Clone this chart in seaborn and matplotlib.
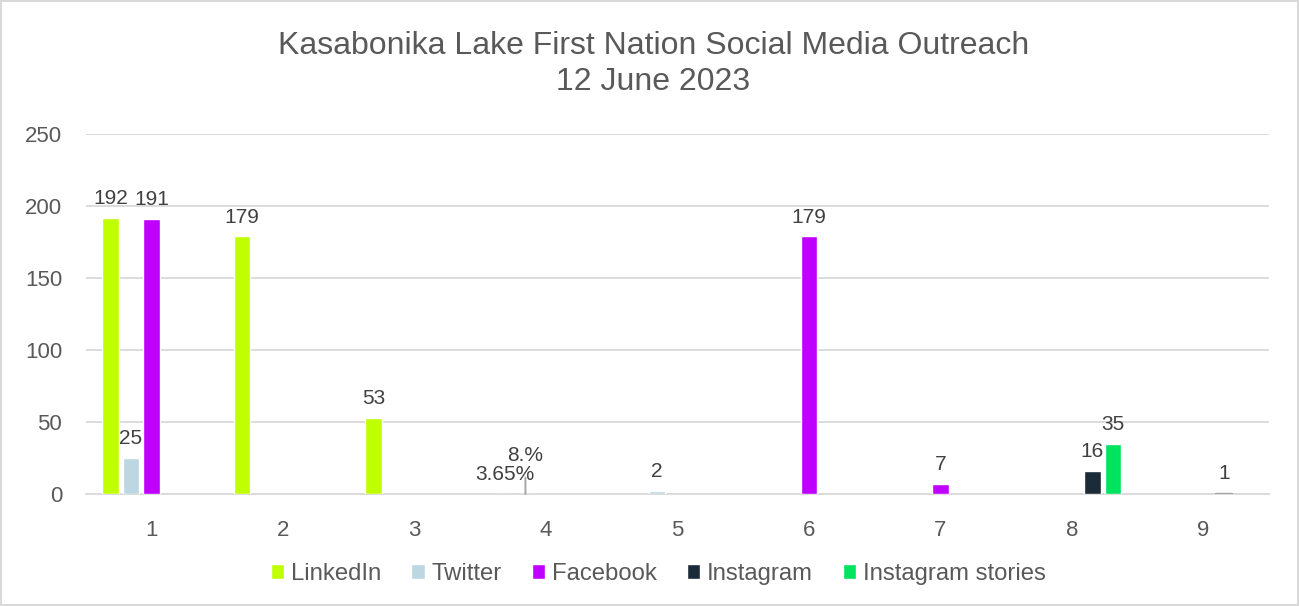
import matplotlib
matplotlib.use('Agg')
import matplotlib.pyplot as plt
import numpy as np
import pandas as pd
import seaborn as sns

# data
categories = ['1', '2', '3', '4', '5', '6', '7', '8', '9']
series = ['LinkedIn', 'Twitter', 'Facebook', 'Instagram', 'Instagram stories']
linkedin = [192, 179, 53, 0.0365, 0, 0, 0, 0, 0]
twitter = [25, 0, 0, 0.08, 2, 0, 0, 0, 0]
facebook = [191, 0, 0, 0, 0, 179, 7, 0, 0]
instagram = [0, 0, 0, 0, 0, 0, 0, 16, 1]
instagram_stories = [0, 0, 0, 0, 0, 0, 0, 35, 0]
# labels on category 4 are percentages in the original
pct_labels = {('LinkedIn', '4'): '3.65%', ('Twitter', '4'): '8.%'}

colors = ['#bfff00', '#bdd7e2', '#c000ff', '#1b2b38', '#00e35f']
grey_point = '#a6a6a6'   # the single value on category 9 is drawn grey
text_col = '#595959'

df = pd.DataFrame({
    'cat': categories * 5,
    'series': np.repeat(series, len(categories)),
    'value': linkedin + twitter + facebook + instagram + instagram_stories,
})

sns.set_style('white')
plt.rcParams['font.family'] = ['Liberation Sans', 'DejaVu Sans']

fig = plt.figure(figsize=(12.99, 6.06), dpi=100)
ax = fig.add_axes([0.066, 0.1848, 0.911, 0.594])

sns.barplot(data=df, x='cat', y='value', hue='series', hue_order=series,
            order=categories, palette=colors, width=0.78, gap=0.18,
            saturation=1, ax=ax, legend=True, zorder=3)

ax.set_ylim(0, 250)
ax.set_xlim(-0.5, 8.5)
ax.set_yticks(range(0, 251, 50))
ax.yaxis.grid(True, color='#d9d9d9', lw=1.3, zorder=0)
ax.set_axisbelow(True)
for s in ['top', 'right', 'left']:
    ax.spines[s].set_visible(False)
ax.spines['bottom'].set_color('#d9d9d9')
ax.spines['bottom'].set_linewidth(1.3)
ax.spines['bottom'].set_zorder(1)
ax.tick_params(axis='both', length=0, labelsize=16, labelcolor=text_col)
ax.tick_params(axis='y', pad=17)
ax.tick_params(axis='x', pad=19)
ax.set_xlabel('')
ax.set_ylabel('')

# value labels
for name, cont in zip(series, ax.containers):
    labs = []
    for cat, p in zip(categories, cont.patches):
        h = p.get_height()
        key = (name, cat)
        if h == 0:
            p.set_visible(False)
        if key == ('Twitter', '4'):
            labs.append('')
            xc = p.get_x() + p.get_width() / 2
            ax.annotate(pct_labels[key], xy=(xc, h), xytext=(0, 28),
                        textcoords='offset points', ha='center', va='center',
                        fontsize=15, color='#404040', zorder=5,
                        arrowprops=dict(arrowstyle='-', color=grey_point,
                                        lw=1.4, shrinkA=7, shrinkB=0))
        elif key in pct_labels:
            labs.append(pct_labels[key])
        elif h >= 1:
            labs.append(str(int(h)))
        else:
            labs.append('')
    ax.bar_label(cont, labels=labs, padding=7, fontsize=15, color='#404040')

# the 1 on category 9 is a thin grey bar, slightly thicker than its value
p9 = ax.containers[3].patches[8]
p9.set_facecolor(grey_point)
p9.set_edgecolor(grey_point)
p9.set_linewidth(1)

handles, labels = ax.get_legend_handles_labels()
ax.get_legend().remove()
fig.legend(handles, labels, loc='center', bbox_to_anchor=(0.507, 0.053),
           ncol=5, frameon=False, fontsize=17.2, labelcolor=text_col,
           handlelength=0.55, handleheight=0.55, handletextpad=0.3,
           columnspacing=1.25)

fig.text(0.503, 0.924, 'Kasabonika Lake First Nation Social Media Outreach',
         ha='center', va='center', fontsize=23, color=text_col)
fig.text(0.503, 0.864, '12 June 2023', ha='center', va='center',
         fontsize=23, color=text_col)

fig.patch.set_edgecolor('#d9d9d9')
fig.patch.set_linewidth(1.5)

fig.savefig('out.png', dpi=100)
